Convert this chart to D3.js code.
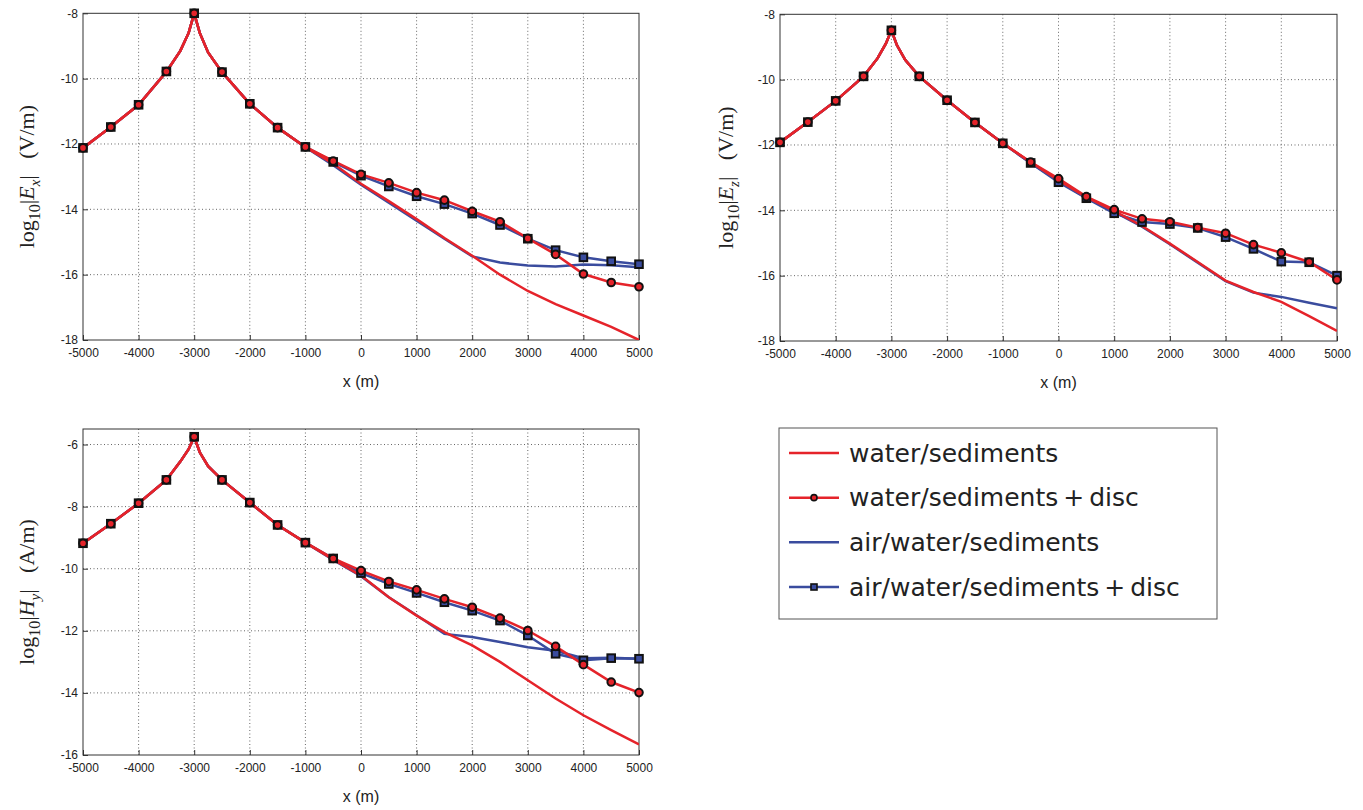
<!DOCTYPE html>
<html>
<head>
<meta charset="utf-8">
<script src="https://cdn.jsdelivr.net/npm/d3@7"></script>
<style>
  body { margin: 0; background: #fff; }
  svg text { white-space: pre; }
</style>
</head>
<body>
<script>
// sample positions along the profile (m)
var xs = [-5000, -4500, -4000, -3500, -3250, -3100, -3000, -2900, -2750, -2500, -2000, -1500,
          -1000, -500, 0, 500, 1000, 1500, 2000, 2500, 3000, 3500, 4000, 4500, 5000]
var xTicks = [-5000, -4000, -3000, -2000, -1000, 0, 1000, 2000, 3000, 4000, 5000]

// log10|Ex|
var exWater     = [-12.12, -11.48, -10.8, -9.8, -9.15, -8.6, -8.0, -8.6, -9.2, -9.8, -10.77, -11.5,
                   -12.1, -12.6, -13.22, -13.75, -14.3, -14.88, -15.42, -16.0, -16.5, -16.9, -17.25, -17.6, -18.0]
var exWaterDisc = [-12.12, -11.48, -10.8, -9.78, -9.15, -8.6, -8.0, -8.6, -9.2, -9.8, -10.77, -11.5,
                   -12.09, -12.52, -12.93, -13.19, -13.49, -13.72, -14.06, -14.38, -14.89, -15.38, -15.98, -16.24, -16.37]
var exAir       = [-12.12, -11.48, -10.8, -9.8, -9.15, -8.6, -8.0, -8.6, -9.2, -9.8, -10.77, -11.5,
                   -12.1, -12.65, -13.25, -13.8, -14.35, -14.9, -15.44, -15.63, -15.72, -15.75, -15.69, -15.71, -15.77]
var exAirDisc   = [-12.12, -11.48, -10.8, -9.78, -9.15, -8.6, -8.0, -8.6, -9.2, -9.8, -10.77, -11.5,
                   -12.09, -12.55, -12.97, -13.3, -13.6, -13.84, -14.13, -14.48, -14.9, -15.25, -15.47, -15.59, -15.68]

// log10|Ez|
var ezWater     = [-11.92, -11.3, -10.65, -9.9, -9.35, -8.9, -8.49, -8.95, -9.4, -9.9, -10.63, -11.31,
                   -11.95, -12.53, -13.08, -13.6, -14.02, -14.48, -15.02, -15.58, -16.15, -16.5, -16.8, -17.24, -17.69]
var ezWaterDisc = [-11.92, -11.3, -10.65, -9.9, -9.35, -8.9, -8.49, -8.95, -9.4, -9.9, -10.63, -11.31,
                   -11.95, -12.52, -13.03, -13.58, -13.98, -14.26, -14.35, -14.53, -14.7, -15.05, -15.3, -15.58, -16.13]
var ezAir       = [-11.92, -11.3, -10.65, -9.9, -9.35, -8.9, -8.49, -8.95, -9.4, -9.9, -10.63, -11.31,
                   -11.95, -12.55, -13.1, -13.62, -14.05, -14.5, -15.04, -15.6, -16.17, -16.52, -16.65, -16.83, -17.0]
var ezAirDisc   = [-11.92, -11.3, -10.65, -9.9, -9.35, -8.9, -8.49, -8.95, -9.4, -9.9, -10.63, -11.31,
                   -11.95, -12.55, -13.14, -13.63, -14.09, -14.36, -14.42, -14.54, -14.82, -15.18, -15.57, -15.59, -16.0]

// log10|Hy|
var hyWater     = [-9.18, -8.55, -7.89, -7.14, -6.55, -6.15, -5.75, -6.25, -6.7, -7.14, -7.87, -8.59,
                   -9.16, -9.7, -10.22, -10.92, -11.51, -12.04, -12.47, -13.0, -13.59, -14.18, -14.72, -15.2, -15.66]
var hyWaterDisc = [-9.18, -8.55, -7.89, -7.14, -6.55, -6.15, -5.75, -6.25, -6.7, -7.14, -7.87, -8.59,
                   -9.16, -9.67, -10.06, -10.41, -10.68, -10.97, -11.24, -11.59, -11.99, -12.5, -13.09, -13.65, -13.99]
var hyAir       = [-9.18, -8.55, -7.89, -7.14, -6.55, -6.15, -5.75, -6.25, -6.7, -7.14, -7.87, -8.59,
                   -9.16, -9.72, -10.24, -10.92, -11.5, -12.1, -12.2, -12.36, -12.53, -12.64, -12.88, -12.87, -12.9]
var hyAirDisc   = [-9.18, -8.55, -7.89, -7.14, -6.55, -6.15, -5.75, -6.25, -6.7, -7.14, -7.87, -8.59,
                   -9.16, -9.67, -10.14, -10.49, -10.78, -11.08, -11.35, -11.67, -12.15, -12.74, -12.95, -12.88, -12.9]

var legendLabels = ['water/sediments', 'water/sediments\u2009+\u2009disc',
                    'air/water/sediments', 'air/water/sediments\u2009+\u2009disc']

var RED = '#e5232a'
var BLUE = '#3a4c9e'

var svg = d3.select('body').append('svg')
    .attr('width', 1363)
    .attr('height', 810)

var panels = [
    {left: 83, right: 639, top: 13.3, bottom: 340, domain: [-18, -8], ticks: [-18, -16, -14, -12, -10, -8],
     comp: 'x', unit: 'V/m', sym: 'E', labelX: 27,
     series: [exWater, exWaterDisc, exAir, exAirDisc]},
    {left: 780, right: 1337, top: 14.3, bottom: 341, domain: [-18, -8], ticks: [-18, -16, -14, -12, -10, -8],
     comp: 'z', unit: 'V/m', sym: 'E', labelX: 726,
     series: [ezWater, ezWaterDisc, ezAir, ezAirDisc]},
    {left: 83, right: 639, top: 429, bottom: 755, domain: [-16, -5.5], ticks: [-16, -14, -12, -10, -8, -6],
     comp: 'y', unit: 'A/m', sym: 'H', labelX: 27,
     series: [hyWater, hyWaterDisc, hyAir, hyAirDisc]}
]

panels.forEach(drawPanel)
drawLegend()

function drawPanel(p) {
    var x = d3.scaleLinear().domain([-5000, 5000]).range([p.left, p.right])
    var y = d3.scaleLinear().domain(p.domain).range([p.bottom, p.top])
    var g = svg.append('g')

    // dotted grid
    g.selectAll('line.gx').data(xTicks.slice(1, -1)).enter().append('line')
        .attr('x1', function (d) { return x(d) }).attr('x2', function (d) { return x(d) })
        .attr('y1', p.top).attr('y2', p.bottom)
        .attr('stroke', '#666').attr('stroke-width', 1).attr('stroke-dasharray', '1,2.5')
    g.selectAll('line.gy').data(p.ticks.filter(function (d) { return y(d) > p.top + 1 && y(d) < p.bottom - 1 }))
        .enter().append('line')
        .attr('y1', function (d) { return y(d) }).attr('y2', function (d) { return y(d) })
        .attr('x1', p.left).attr('x2', p.right)
        .attr('stroke', '#666').attr('stroke-width', 1).attr('stroke-dasharray', '1,2.5')

    // axes with inward ticks
    var xAxis = d3.axisBottom(x).tickValues(xTicks).tickSize(-5).tickPadding(8).tickFormat(d3.format('d'))
    var yAxis = d3.axisLeft(y).tickValues(p.ticks).tickSize(-5).tickPadding(5).tickFormat(d3.format('d'))
    var ga = g.append('g').attr('transform', 'translate(0,' + p.bottom + ')').call(xAxis)
    var gb = g.append('g').attr('transform', 'translate(' + p.left + ',0)').call(yAxis)
    ;[ga, gb].forEach(function (a) {
        a.select('.domain').remove()
        a.selectAll('line').attr('stroke', '#333')
        a.selectAll('text').attr('font-family', 'Liberation Sans, Arial, sans-serif')
            .attr('font-size', 12).attr('fill', '#222')
            .text(function (d) { return String(d) })
    })

    // frame
    g.append('rect')
        .attr('x', p.left).attr('y', p.top)
        .attr('width', p.right - p.left).attr('height', p.bottom - p.top)
        .attr('fill', 'none').attr('stroke', '#333').attr('stroke-width', 1)

    var line = d3.line()
        .x(function (d, i) { return x(xs[i]) })
        .y(function (d) { return y(d) })

    var clipId = 'clip' + p.comp
    svg.append('clipPath').attr('id', clipId).append('rect')
        .attr('x', p.left).attr('y', p.top - 6)
        .attr('width', p.right - p.left).attr('height', p.bottom - p.top + 6)
    var lg = g.append('g').attr('clip-path', 'url(#' + clipId + ')')

    // blue series first, red on top
    lg.append('path').datum(p.series[2]).attr('d', line)
        .attr('fill', 'none').attr('stroke', BLUE).attr('stroke-width', 2.5)
    lg.append('path').datum(p.series[3]).attr('d', line)
        .attr('fill', 'none').attr('stroke', BLUE).attr('stroke-width', 2.5)
    lg.append('path').datum(p.series[0]).attr('d', line)
        .attr('fill', 'none').attr('stroke', RED).attr('stroke-width', 2.5)
    lg.append('path').datum(p.series[1]).attr('d', line)
        .attr('fill', 'none').attr('stroke', RED).attr('stroke-width', 2.5)

    var markX = xs.filter(function (v) { return v % 500 === 0 })
    var onMarks = function (d, i) { return xs[i] % 500 === 0 }
    g.selectAll('rect.sq').data(p.series[3].filter(onMarks)).enter().append('rect')
        .attr('class', 'sq')
        .attr('x', function (d, i) { return x(markX[i]) - 3.8 })
        .attr('y', function (d) { return y(d) - 3.8 })
        .attr('width', 7.6).attr('height', 7.6)
        .attr('fill', BLUE).attr('stroke', '#111').attr('stroke-width', 2)
    g.selectAll('circle.ci').data(p.series[1].filter(onMarks)).enter().append('circle')
        .attr('class', 'ci')
        .attr('cx', function (d, i) { return x(markX[i]) })
        .attr('cy', function (d) { return y(d) })
        .attr('r', 3.8)
        .attr('fill', RED).attr('stroke', '#111').attr('stroke-width', 2)

    // x label
    g.append('text')
        .attr('x', (p.left + p.right) / 2).attr('y', p.bottom + 47)
        .attr('text-anchor', 'middle')
        .attr('font-family', 'Liberation Sans, Arial, sans-serif').attr('font-size', 16).attr('fill', '#222')
        .text('x (m)')

    // y label  log10|E_x|  (V/m)
    var cy = (p.top + p.bottom) / 2
    var t = g.append('text')
        .attr('transform', 'translate(' + p.labelX + ',' + cy + ') rotate(-90)')
        .attr('text-anchor', 'middle').attr('dy', '0.3em')
        .attr('font-family', 'Liberation Serif, Times New Roman, serif').attr('font-size', 22).attr('fill', '#222')
    t.append('tspan').text('log')
    t.append('tspan').attr('font-size', 16).attr('dy', 6).text('10')
    t.append('tspan').attr('dy', -6).text('|')
    t.append('tspan').attr('font-style', 'italic').text(p.sym)
    t.append('tspan').attr('font-style', 'italic').attr('font-size', 15).attr('dy', 6).text(p.comp)
    t.append('tspan').attr('dy', -6).text('|   (' + p.unit + ')')
}

function drawLegend() {
    var lx = 779, ly = 428, lw = 438, lh = 191
    var g = svg.append('g')
    g.append('rect').attr('x', lx).attr('y', ly).attr('width', lw).attr('height', lh)
        .attr('fill', '#fff').attr('stroke', '#555').attr('stroke-width', 1)

    var rowY = d3.scalePoint().domain(d3.range(legendLabels.length)).range([453, 587])
    var colors = [RED, RED, BLUE, BLUE]
    legendLabels.forEach(function (lab, i) {
        var yy = rowY(i)
        g.append('line').attr('x1', 789).attr('x2', 839).attr('y1', yy).attr('y2', yy)
            .attr('stroke', colors[i]).attr('stroke-width', 2.5)
        if (i === 1) {
            g.append('circle').attr('cx', 814).attr('cy', yy).attr('r', 3)
                .attr('fill', RED).attr('stroke', '#111').attr('stroke-width', 1.6)
        }
        if (i === 3) {
            g.append('rect').attr('x', 811).attr('y', yy - 3).attr('width', 6).attr('height', 6)
                .attr('fill', BLUE).attr('stroke', '#111').attr('stroke-width', 1.6)
        }
        g.append('text').attr('x', 849).attr('y', yy).attr('dy', '0.35em')
            .attr('font-family', 'DejaVu Sans, sans-serif').attr('font-size', 25).attr('fill', '#222')
            .text(lab)
    })
}
</script>
</body>
</html>
